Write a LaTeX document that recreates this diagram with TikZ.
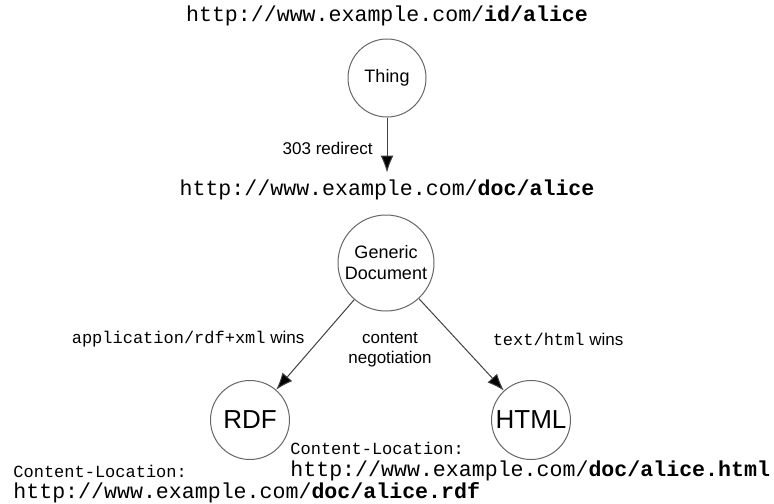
\documentclass[tikz,border=0pt]{standalone}
\usepackage{fontspec}
\setmainfont{Liberation Sans}
\setsansfont{Liberation Sans}
\setmonofont{Liberation Mono}
\usepackage{tikz}
\usetikzlibrary{positioning,arrows.meta}

\newcommand{\bigtt}{\fontsize{10.8}{13}\selectfont\ttfamily}
\newcommand{\smalltt}{\fontsize{8.5}{10}\selectfont\ttfamily}

\begin{document}
\begin{tikzpicture}[x=0.5pt,y=-0.5pt,inner sep=0pt,
  res/.style={circle,draw=black!60,line width=0.5pt,font=\fontsize{9}{10.5}\selectfont\sffamily,align=center},
  repr/.style={circle,draw=black!60,line width=0.5pt,minimum size=39.5pt,font=\fontsize{13}{15}\selectfont\sffamily},
  lbl/.style={font=\fontsize{8.5}{10}\selectfont\sffamily,align=center},
  link/.style={draw=black!75,line width=0.5pt,-{Latex[length=8.5pt,width=6.5pt,fill=black]}}]
\useasboundingbox (0,0) rectangle (774,503);

\coordinate (T) at  (387, 78);
\coordinate (G) at  (386, 263);
\coordinate (R) at  (250, 420);
\coordinate (H) at  (531, 420);

\coordinate (U1) at (387, 16);
\coordinate (U2) at (387, 190);
\coordinate (CN) at (390, 350);

\node (idurl) at (U1) {\bigtt http://www.example.com/\textbf{id/alice}};
\node[res,minimum size=39pt] (thing) at (T) {Thing};
\node (docurl) at (U2) {\bigtt http://www.example.com/\textbf{doc/alice}};
\node[res,minimum size=48pt] (gen) at (G) {Generic\\Document};
\node[repr] (rdf) at (R) {RDF};
\node[repr] (html) at (H) {HTML};

\draw[link,shorten >=3.5pt] (thing) -- (docurl) node[lbl,midway,left=7pt] {303 redirect};
\draw[link] (gen) -- (rdf) node[lbl,pos=0.44,left=7.5pt] {\smalltt application/rdf+xml\normalfont\sffamily{} wins};
\draw[link] (gen) -- (html) node[lbl,pos=0.44,right=18pt] {\smalltt text/html\normalfont\sffamily{} wins};
\node[lbl] (negot) at (CN) {content\\negotiation};

% content locations
\node[anchor=west] (htmlloc) at (290, 448) {\smalltt Content-Location:};
\node[anchor=west] (htmlurl) at (290, 471) {\bigtt http://www.example.com/\textbf{doc/alice.html}};
\node[anchor=west] (rdfloc) at (13, 471) {\smalltt Content-Location:};
\node[anchor=west] (rdfurl) at (13, 493) {\bigtt http://www.example.com/\textbf{doc/alice.rdf}};
\end{tikzpicture}
\end{document}
